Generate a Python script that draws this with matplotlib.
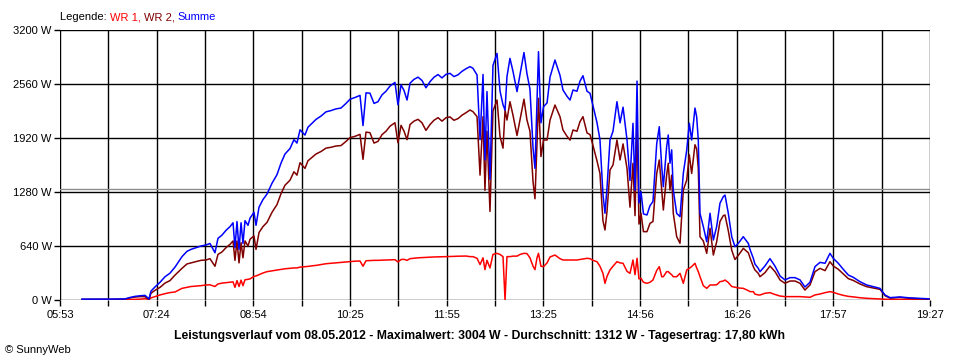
import matplotlib
matplotlib.use("Agg")
import matplotlib.pyplot as plt
from matplotlib.ticker import FixedLocator
import numpy as np

# time in minutes since midnight
times = [373.6, 385.7, 399.8, 413.8, 418.5, 423.2, 427.9, 432.5, 436.3, 438.1,
         441.9, 446.6, 451.2, 455.9, 460.6, 467.1, 471.8, 475.6, 480.2, 484.9,
         489.6, 493.3, 498.0, 500.8, 504.6, 508.3, 512.1, 514.9, 516.7, 518.6,
         520.5, 522.4, 524.2, 526.1, 528.9, 530.8, 534.5, 536.4, 539.2, 542.9,
         546.7, 551.4, 556.0, 559.8, 563.5, 568.2, 571.9, 574.7, 577.6, 582.2,
         585.0, 588.8, 592.5, 597.2, 601.9, 606.6, 611.2, 615.9, 620.6, 624.3,
         629.0, 633.7, 636.5, 639.3, 643.0, 646.8, 650.5, 654.3, 658.0, 661.8,
         666.4, 669.2, 672.1, 674.9, 677.7, 680.5, 684.2, 688.0, 691.7, 695.4,
         699.2, 702.9, 706.7, 710.4, 714.2, 717.9, 721.6, 725.4, 729.1, 732.9,
         736.6, 739.4, 743.2, 746.0, 748.8, 750.6, 752.5, 755.3, 758.1, 761.9,
         764.7, 767.5, 769.4, 771.2, 774.0, 776.8, 780.6, 783.4, 787.1, 789.9,
         792.7, 795.6, 797.4, 799.3, 800.7, 803.0, 805.4, 808.7, 811.5, 816.1,
         820.8, 823.6, 827.4, 830.2, 833.0, 836.7, 839.5, 842.3, 846.1, 848.9,
         851.7, 855.4, 858.2, 861.0, 862.9, 864.8, 867.6, 870.4, 874.1, 877.0,
         879.8, 883.5, 886.3, 889.1, 891.0, 892.9, 894.7, 896.6, 898.9, 902.2,
         905.0, 907.8, 911.3, 913.7, 916.0, 917.5, 920.6, 922.1, 923.7, 925.3,
         926.8, 930.0, 933.1, 936.2, 939.4, 941.8, 944.0, 947.1, 948.7, 950.2,
         951.8, 954.9, 958.1, 961.2, 964.3, 967.4, 970.5, 973.6, 975.2, 978.3,
         981.5, 984.5, 987.6, 992.3, 997.0, 998.6, 1001.7, 1003.2, 1006.3, 1007.9,
         1012.6, 1017.3, 1022.0, 1026.7, 1031.3, 1036.0, 1040.7, 1045.4, 1050.0, 1054.7,
         1059.4, 1064.1, 1068.8, 1073.4, 1076.5, 1081.2, 1085.9, 1090.6, 1095.2, 1101.5,
         1107.8, 1114.0, 1120.2, 1124.9, 1129.6, 1138.9, 1148.3, 1157.6, 1166.1]

wr2 = [8, 8, 8, 10, 25, 35, 40, 40, 5, 80,
       115, 150, 200, 230, 295, 375, 427, 440, 455, 470,
       474, 490, 400, 540, 570, 620, 660, 700, 470, 700,
       440, 680, 500, 700, 640, 720, 760, 600, 800, 870,
       920, 1040, 1130, 1260, 1360, 1420, 1520, 1480, 1627, 1560,
       1650, 1690, 1730, 1760, 1800, 1810, 1825, 1830, 1880, 1924,
       1940, 1963, 1667, 1990, 1983, 1860, 1880, 1960, 2000, 2060,
       2101, 1864, 2070, 2000, 1900, 2080, 2120, 2141, 2100, 2010,
       2080, 2130, 2161, 2120, 2161, 2170, 2130, 2150, 2190, 2220,
       2252, 2232, 2173, 1480, 2173, 1300, 2000, 1050, 2240, 2370,
       1936, 1800, 2250, 2133, 2350, 2192, 1950, 2133, 2380, 2133,
       2000, 1400, 1200, 1857, 2390, 1700, 1896, 1896, 2133, 2311,
       2173, 2015, 1940, 1896, 2015, 2000, 2113, 2173, 1980, 1960,
       1830, 1650, 1500, 940, 830, 1050, 1541, 1600, 1896, 1660,
       1850, 1560, 1100, 1620, 1000, 2100, 900, 1027, 810, 810,
       908, 930, 1500, 1659, 1304, 1067, 1480, 1620, 1304, 1480,
       1028, 750, 672, 1304, 1422, 1720, 1500, 1840, 1790, 1560,
       750, 700, 553, 850, 533, 690, 930, 1000, 1007, 820,
       590, 480, 528, 612, 560, 500, 395, 356, 316, 276,
       324, 403, 336, 237, 198, 225, 225, 198, 118, 178,
       336, 375, 348, 454, 403, 364, 308, 253, 232, 190,
       158, 142, 126, 51, 22, 30, 20, 14, 10]

wr1 = [2, 2, 3, 3, 5, 8, 10, 15, 8, 25,
       40, 60, 75, 88, 95, 138, 150, 160, 165, 170,
       178, 180, 160, 190, 200, 205, 210, 215, 150, 230,
       160, 235, 170, 240, 245, 250, 280, 285, 300, 320,
       336, 345, 355, 363, 370, 375, 380, 380, 390, 395,
       398, 405, 410, 420, 430, 435, 440, 445, 450, 455,
       460, 462, 400, 465, 468, 470, 470, 472, 474, 476,
       478, 450, 480, 482, 470, 490, 495, 500, 502, 505,
       508, 510, 511, 512, 514, 516, 518, 519, 520, 521,
       514, 514, 494, 420, 500, 360, 470, 380, 540, 553,
       540, 514, 0, 514, 514, 520, 520, 540, 553, 550,
       500, 400, 360, 500, 553, 400, 395, 440, 510, 533,
       490, 474, 474, 474, 474, 474, 480, 485, 494, 490,
       470, 454, 400, 316, 198, 280, 356, 400, 454, 440,
       435, 340, 316, 474, 300, 494, 250, 257, 210, 198,
       210, 237, 350, 395, 276, 276, 336, 336, 316, 300,
       276, 276, 316, 198, 356, 375, 396, 435, 380, 336,
       276, 170, 138, 178, 178, 180, 217, 225, 237, 207,
       160, 152, 143, 138, 111, 99, 99, 70, 60, 59,
       80, 87, 65, 47, 40, 40, 40, 40, 36, 32,
       60, 71, 87, 99, 91, 71, 55, 43, 37, 27,
       20, 16, 12, 8, 6, 6, 5, 5, 4]

summe = [a + b for a, b in zip(wr1, wr2)]

average = 1312
y_ticks = [0, 640, 1280, 1920, 2560, 3200]
x_start, x_end = 353, 1167          # 05:53 .. 19:27
n_grid = 18
x_labels = ["05:53", "07:24", "08:54", "10:25", "11:55", "13:25", "14:56", "16:26", "17:57", "19:27"]

legend_parts = [("Legende: ", "black"), ("WR 1, ", "#ff0000"), ("WR 2, ", "#800000"), ("Summe", "#0000ff")]
title = ("Leistungsverlauf vom 08.05.2012 - Maximalwert: 3004 W - "
         "Durchschnitt: 1312 W - Tagesertrag: 17,80 kWh")

plt.rcParams['font.family'] = ['Liberation Sans', 'DejaVu Sans']

fig = plt.figure(figsize=(9.6, 3.6), dpi=100)
ax = fig.add_axes([60/960, 1 - 300/360, 870/960, 270/360])

ax.set_xlim(x_start, x_end)
ax.set_ylim(0, 3200)

grid_x = np.linspace(x_start, x_end, n_grid + 1)
for gx in grid_x:
    ax.axvline(gx, color="black", lw=1.0, zorder=1)
for gy in y_ticks:
    ax.axhline(gy, color="black", lw=1.0, zorder=1)
ax.axhline(average, color="#8c8c8c", lw=1.0, zorder=1.5)

line_kw = dict(lw=1.1)
ax.plot(times, wr1, color="#ff0000", zorder=3, **line_kw)
ax.plot(times, wr2, color="#800000", zorder=4, **line_kw)
ax.plot(times, summe, color="#0000ff", zorder=5, **line_kw)

ax.xaxis.set_major_locator(FixedLocator(grid_x[::2]))
ax.xaxis.set_minor_locator(FixedLocator(grid_x))
ax.set_xticklabels(x_labels)
ax.tick_params(axis="x", which="both", direction="out", length=4, width=1, color="black",
               labelsize=8, pad=3)
ax.set_yticks(y_ticks)
ax.set_yticklabels([f"{v} W" for v in y_ticks])
ax.tick_params(axis="y", direction="out", length=4, width=1, labelsize=8, pad=2)
for s in ax.spines.values():
    s.set_visible(False)

# legend text
fig.canvas.draw()
renderer = fig.canvas.get_renderer()
xpos = 60 / 960
for txt, col in legend_parts:
    t = fig.text(xpos, 1 - 17/360, txt, color=col, fontsize=8, va="center", ha="left")
    bb = t.get_window_extent(renderer=renderer)
    xpos += bb.width / fig.bbox.width

fig.text(479/960, 1 - 336/360, title, fontsize=8.8, fontweight="bold", ha="center", va="center")
fig.text(5/960, 1 - 350/360, "\u00a9 SunnyWeb", fontsize=8, ha="left", va="center")

fig.savefig("out.png", dpi=100, facecolor="white")
